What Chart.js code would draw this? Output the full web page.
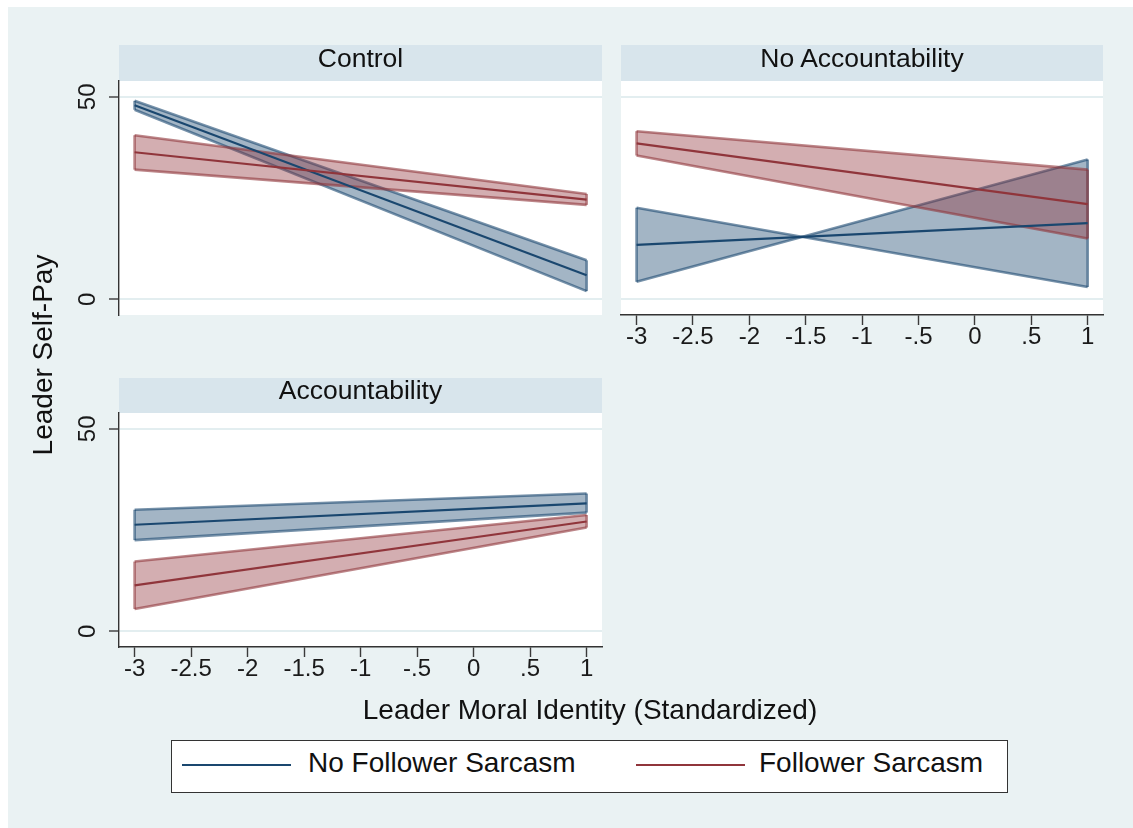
<!DOCTYPE html>
<html>
<head>
<meta charset="utf-8">
<title>Leader Self-Pay by Leader Moral Identity</title>
<script src="https://cdn.jsdelivr.net/npm/chart.js@4.4.1/dist/chart.umd.min.js"></script>
<style>
  html, body { margin: 0; padding: 0; background: #ffffff; }
  #page {
    position: relative; width: 1133px; height: 828px; overflow: hidden; background: #ffffff;
    font-family: "Liberation Sans", Arial, Helvetica, sans-serif; color: #111111;
  }
  #bg { position: absolute; left: 8px; top: 7px; right: 0; bottom: 0; background: #EAF2F3; }
  .strip { position: absolute; background: #D8E5EC; }
  .stripText {
    position: absolute; text-align: center; font-size: 26.5px; line-height: 30px; height: 30px;
    white-space: nowrap;
  }
  canvas { position: absolute; left: 0; top: 0; }
  #ytitle {
    position: absolute; width: 320px; height: 34px; line-height: 34px; font-size: 28px;
    text-align: center; white-space: nowrap; left: -117px; top: 338px; transform: rotate(-90deg);
  }
  #xtitle {
    position: absolute; left: 290px; width: 600px; top: 693px; height: 34px; line-height: 34px;
    font-size: 28px; text-align: center; white-space: nowrap;
  }
  #legend {
    position: absolute; left: 171px; top: 740px; width: 837px; height: 53px; box-sizing: border-box;
    border: 1.5px solid #333333; background: #ffffff;
  }
  .legLine { position: absolute; height: 2.5px; top: 22.5px; }
  .legText { position: absolute; top: 6px; font-size: 28px; line-height: 32px; white-space: nowrap; }
</style>
</head>
<body>
<div id="page">
  <div id="bg"></div>
  <div class="strip" style="left:119px; top:45px; width:483px; height:36px;"></div>
  <div class="strip" style="left:621px; top:45px; width:482px; height:36px;"></div>
  <div class="strip" style="left:119px; top:378px; width:483px; height:35px;"></div>
  <canvas id="c1" width="1133" height="828"></canvas>
  <canvas id="c2" width="1133" height="828"></canvas>
  <canvas id="c3" width="1133" height="828"></canvas>
  <div class="stripText" id="t1" style="left:119px; width:483px; top:42.8px;"></div>
  <div class="stripText" id="t2" style="left:621px; width:482px; top:42.8px;"></div>
  <div class="stripText" id="t3" style="left:119px; width:483px; top:374.8px;"></div>
  <div id="ytitle"></div>
  <div id="xtitle"></div>
  <div id="legend">
    <div class="legLine" id="leg0line" style="left:10px; width:109px;"></div>
    <div class="legText" id="leg0text" style="left:136px;"></div>
    <div class="legLine" id="leg1line" style="left:464px; width:109px;"></div>
    <div class="legText" id="leg1text" style="left:587px;"></div>
  </div>
</div>
<script>
// ---- data ----
const panelTitles = ['Control', 'No Accountability', 'Accountability'];
const seriesNames = ['No Follower Sarcasm', 'Follower Sarcasm'];
const yAxisTitle = 'Leader Self-Pay';
const xAxisTitle = 'Leader Moral Identity (Standardized)';

const xPoints = [-3, 1];
const xTicks = [-3, -2.5, -2, -1.5, -1, -0.5, 0, 0.5, 1];
const xTickLabels = ['-3', '-2.5', '-2', '-1.5', '-1', '-.5', '0', '.5', '1'];
const yTicks = [0, 50];
const yTickLabels = ['0', '50'];

// Control
const controlNoSarcasm   = [47.9, 5.9];
const controlNoSarcasmHi = [49.0, 9.6];
const controlNoSarcasmLo = [46.8, 2.0];
const controlSarcasm     = [36.3, 24.6];
const controlSarcasmHi   = [40.5, 26.0];
const controlSarcasmLo   = [32.0, 23.3];

// No Accountability (the no-sarcasm band edges cross near -1.5)
const noAccNoSarcasm     = [13.4, 18.8];
const noAccNoSarcasmHi   = [22.6, 3.0];
const noAccNoSarcasmLo   = [4.3, 34.5];
const noAccSarcasm       = [38.5, 23.5];
const noAccSarcasmHi     = [41.5, 32.0];
const noAccSarcasmLo     = [35.5, 15.0];

// Accountability
const accNoSarcasm       = [26.3, 31.6];
const accNoSarcasmHi     = [30.0, 34.0];
const accNoSarcasmLo     = [22.5, 29.3];
const accSarcasm         = [11.3, 27.1];
const accSarcasmHi       = [17.2, 28.7];
const accSarcasmLo       = [5.5, 25.6];

// ---- appearance ----
const NAVY = '26,71,111';
const MAROON = '144,53,59';
const X_MIN = -3.138, X_MAX = 1.136;
const Y_MIN = -3.9, Y_MAX = 53.9;
const X_AXIS_BOX = 40;
const FONT = '"Liberation Sans", Arial, Helvetica, sans-serif';

document.getElementById('t1').textContent = panelTitles[0];
document.getElementById('t2').textContent = panelTitles[1];
document.getElementById('t3').textContent = panelTitles[2];
document.getElementById('ytitle').textContent = yAxisTitle;
document.getElementById('xtitle').textContent = xAxisTitle;
document.getElementById('leg0text').textContent = seriesNames[0];
document.getElementById('leg1text').textContent = seriesNames[1];
document.getElementById('leg0line').style.background = `rgb(${NAVY})`;
document.getElementById('leg1line').style.background = `rgb(${MAROON})`;

const pts = arr => xPoints.map((x, i) => ({ x: x, y: arr[i] }));

function bandSets(hi, lo, rgb, order) {
  const edge = `rgba(${rgb},0.6)`;
  const common = { borderColor: edge, borderWidth: 2.6, pointRadius: 0, order: order };
  const sets = [
    Object.assign({ data: pts(hi), fill: false }, common),
    Object.assign({ data: pts(lo), fill: '-1', backgroundColor: `rgba(${rgb},0.4)` }, common)
  ];
  // closing edges of the band at each end of the range
  xPoints.forEach((x, i) => {
    sets.push(Object.assign({ data: [{ x: x, y: lo[i] }, { x: x, y: hi[i] }], fill: false },
      common, { order: order - 0.1 }));
  });
  return sets;
}

function lineSet(mid, rgb, order) {
  return { data: pts(mid), borderColor: `rgb(${rgb})`, borderWidth: 2.2, pointRadius: 0, fill: false, order: order };
}

// white plot region + rotated y tick labels
const panelDecor = {
  id: 'panelDecor',
  beforeDraw(chart) {
    const { ctx, chartArea: a } = chart;
    ctx.save();
    ctx.fillStyle = '#ffffff';
    ctx.fillRect(a.left, a.top, a.right - a.left, a.bottom - a.top);
    ctx.restore();
  },
  afterDraw(chart, args, opts) {
    if (!opts.yLabels) return;
    const { ctx } = chart;
    const ys = chart.scales.y;
    ctx.save();
    ctx.font = `24px ${FONT}`;
    ctx.fillStyle = '#1a1a1a';
    ctx.textAlign = 'center';
    ctx.textBaseline = 'alphabetic';
    yTicks.forEach((v, i) => {
      ctx.save();
      ctx.translate(opts.labelBaselineX, ys.getPixelForValue(v));
      ctx.rotate(-Math.PI / 2);
      ctx.fillText(yTickLabels[i], 0, 0);
      ctx.restore();
    });
    ctx.restore();
  }
};

function makePanel(id, rect, showY, showX, blue, red) {
  const datasets = [
    ...bandSets(blue.hi, blue.lo, NAVY, 4),
    ...bandSets(red.hi, red.lo, MAROON, 3),
    lineSet(blue.mid, NAVY, 2),
    lineSet(red.mid, MAROON, 1)
  ];
  const xBox = showX ? X_AXIS_BOX : 0;
  return new Chart(document.getElementById(id), {
    type: 'line',
    data: { datasets: datasets },
    plugins: [panelDecor],
    options: {
      responsive: false,
      maintainAspectRatio: false,
      animation: false,
      events: [],
      layout: { padding: { left: rect.l, top: rect.t, right: 1133 - rect.r, bottom: 828 - rect.b - xBox } },
      plugins: {
        legend: { display: false },
        tooltip: { enabled: false },
        title: { display: false },
        panelDecor: { yLabels: showY, labelBaselineX: 95 }
      },
      scales: {
        x: {
          type: 'linear',
          min: X_MIN, max: X_MAX,
          display: showX,
          afterBuildTicks: s => { s.ticks = xTicks.map(v => ({ value: v })); },
          afterFit: s => { s.height = xBox; },
          grid: {
            drawOnChartArea: false, drawTicks: true, tickLength: 10,
            tickColor: '#3a3a3a', tickWidth: 1.4
          },
          border: { display: true, color: '#333333', width: 1.4 },
          ticks: {
            autoSkip: false, maxRotation: 0, minRotation: 0, padding: 0,
            color: '#1a1a1a',
            font: { family: FONT, size: 24, lineHeight: 1 },
            callback: (v, i) => xTickLabels[i]
          }
        },
        y: {
          type: 'linear',
          min: Y_MIN, max: Y_MAX,
          afterBuildTicks: s => { s.ticks = yTicks.map(v => ({ value: v })); },
          afterFit: s => { s.width = 0; },
          grid: {
            color: '#E3EEF0', lineWidth: 2,
            drawTicks: showY, tickLength: 10, tickColor: '#3a3a3a', tickWidth: 1.4
          },
          border: { display: showY, color: '#333333', width: 1.4 },
          ticks: { display: false }
        }
      }
    }
  });
}

makePanel('c1', { l: 119, t: 81, r: 602, b: 315 }, true, false,
  { mid: controlNoSarcasm, hi: controlNoSarcasmHi, lo: controlNoSarcasmLo },
  { mid: controlSarcasm, hi: controlSarcasmHi, lo: controlSarcasmLo });

makePanel('c2', { l: 621, t: 81, r: 1103, b: 315 }, false, true,
  { mid: noAccNoSarcasm, hi: noAccNoSarcasmHi, lo: noAccNoSarcasmLo },
  { mid: noAccSarcasm, hi: noAccSarcasmHi, lo: noAccSarcasmLo });

makePanel('c3', { l: 119, t: 413, r: 602, b: 647 }, true, true,
  { mid: accNoSarcasm, hi: accNoSarcasmHi, lo: accNoSarcasmLo },
  { mid: accSarcasm, hi: accSarcasmHi, lo: accSarcasmLo });
</script>
</body>
</html>
